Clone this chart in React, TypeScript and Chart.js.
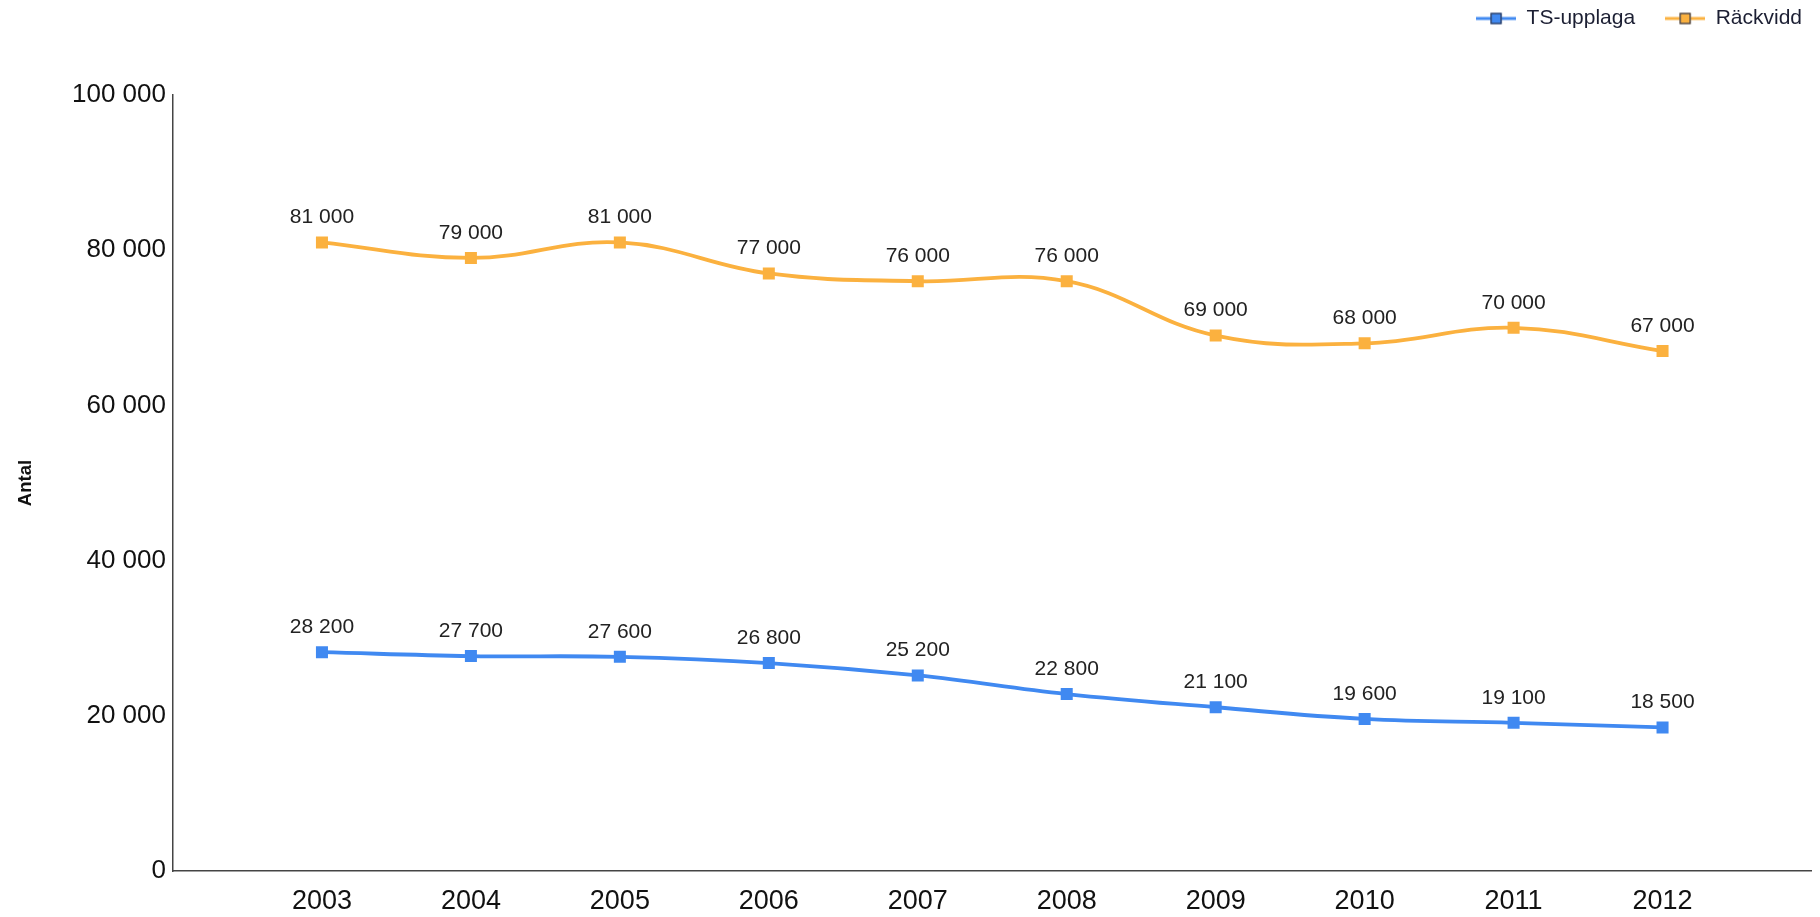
import React, { useEffect, useRef } from "react";
import { Chart, registerables } from "chart.js";

Chart.register(...registerables);

const years = [2003, 2004, 2005, 2006, 2007, 2008, 2009, 2010, 2011, 2012];
const tsUpplaga = [28200, 27700, 27600, 26800, 25200, 22800, 21100, 19600, 19100, 18500];
const rackvidd = [81000, 79000, 81000, 77000, 76000, 76000, 69000, 68000, 70000, 67000];
const yTicks = [0, 20000, 40000, 60000, 80000, 100000];

const BLUE = "#4089f1";
const ORANGE = "#fbb13f";
const FONT = "'Liberation Sans', Arial, sans-serif";

const fmt = (v: number) => String(Math.round(v)).replace(/\B(?=(\d{3})+(?!\d))/g, " ");

function legendIcon(color: string) {
  const c = document.createElement("canvas");
  c.width = 40;
  c.height = 14;
  const ctx = c.getContext("2d")!;
  ctx.strokeStyle = color;
  ctx.lineWidth = 3;
  ctx.beginPath();
  ctx.moveTo(0, 7);
  ctx.lineTo(40, 7);
  ctx.stroke();
  ctx.fillStyle = color;
  ctx.fillRect(14.5, 1.5, 11, 11);
  ctx.strokeStyle = "#2c3550";
  ctx.lineWidth = 1.2;
  ctx.strokeRect(15, 2, 10, 10);
  return c;
}

const dataLabels = {
  id: "dataLabels",
  afterDatasetsDraw(chart: any) {
    const ctx = chart.ctx;
    ctx.save();
    ctx.font = `21px ${FONT}`;
    ctx.fillStyle = "#222";
    ctx.textAlign = "center";
    ctx.textBaseline = "middle";
    chart.data.datasets.forEach((ds: any, i: number) => {
      const meta = chart.getDatasetMeta(i);
      meta.data.forEach((pt: any, j: number) => {
        ctx.fillText(fmt(ds.data[j].y), pt.x, pt.y - 25);
      });
    });
    ctx.restore();
  },
};

const legendTweak = {
  id: "legendTweak",
  beforeInit(chart: any) {
    const lg = chart.legend;
    const origFit = lg.fit;
    lg.fit = function () {
      origFit.call(this);
      this.height += 34;
    };
    const origDraw = lg.draw;
    lg.draw = function () {
      const ctx = this.ctx;
      ctx.save();
      ctx.translate(12, -22);
      origDraw.call(this);
      ctx.restore();
    };
  },
};

export default function App() {
  const ref = useRef<HTMLCanvasElement>(null);
  useEffect(() => {
    const icons = [legendIcon(BLUE), legendIcon(ORANGE)];
    const chart = new Chart(ref.current!, {
      type: "line",
      data: {
        datasets: [
          {
            label: "TS-upplaga",
            data: years.map((x, i) => ({ x, y: tsUpplaga[i] })),
            borderColor: BLUE,
            backgroundColor: BLUE,
            borderWidth: 3.8,
            tension: 0.4,
            pointStyle: "rect",
            pointRadius: 8.5,
            pointBorderWidth: 0,
          },
          {
            label: "Räckvidd",
            data: years.map((x, i) => ({ x, y: rackvidd[i] })),
            borderColor: ORANGE,
            backgroundColor: ORANGE,
            borderWidth: 3.8,
            tension: 0.4,
            pointStyle: "rect",
            pointRadius: 8.5,
            pointBorderWidth: 0,
          },
        ],
      },
      options: {
        animation: false,
        responsive: false,
        maintainAspectRatio: false,
        layout: { padding: { left: 0, right: 0, top: 0, bottom: 0 } },
        plugins: {
          tooltip: { enabled: false },
          legend: {
            position: "top",
            align: "end",
            labels: {
              usePointStyle: true,
              pointStyleWidth: 40,
              padding: 30,
              color: "#1c1f33",
              font: { family: FONT, size: 21 },
              generateLabels: (ch: any) =>
                ch.data.datasets.map((ds: any, i: number) => ({
                  text: ds.label,
                  pointStyle: icons[i],
                  datasetIndex: i,
                  fontColor: "#1c1f33",
                  lineWidth: 0,
                  strokeStyle: "transparent",
                  fillStyle: "transparent",
                })),
            },
          },
        },
        scales: {
          x: {
            type: "linear",
            min: 2002,
            max: 2013,
            afterBuildTicks: (axis: any) => {
              axis.ticks = years.map((v) => ({ value: v }));
            },
            afterFit: (axis: any) => {
              axis.height = 46;
            },
            grid: { display: false, drawTicks: false },
            border: { display: true, color: "#444", width: 1.5 },
            ticks: {
              color: "#111",
              font: { family: FONT, size: 27 },
              padding: 14,
              maxRotation: 0,
              autoSkip: false,
              callback: (v: any) => String(v),
            },
          },
          y: {
            min: 0,
            max: 100000,
            afterBuildTicks: (axis: any) => {
              axis.ticks = yTicks.map((v) => ({ value: v }));
            },
            afterFit: (axis: any) => {
              axis.width = 173;
            },
            grid: { display: false, drawTicks: false },
            border: { display: true, color: "#444", width: 1.5 },
            title: {
              display: true,
              text: "Antal",
              color: "#111",
              font: { family: FONT, size: 18.5, weight: "bold" },
              padding: { top: 15, bottom: 0 },
            },
            ticks: {
              color: "#111",
              font: { family: FONT, size: 26 },
              padding: 7,
              callback: (v: any) => fmt(Number(v)),
            },
          },
        },
      },
      plugins: [dataLabels, legendTweak],
    } as any);
    return () => chart.destroy();
  }, []);
  return (
    <div style={{ position: "fixed", left: 0, top: 0, width: 1820, height: 917, background: "#fff" }}>
      <canvas ref={ref} width={1820} height={917} style={{ width: 1820, height: 917 }} />
    </div>
  );
}
